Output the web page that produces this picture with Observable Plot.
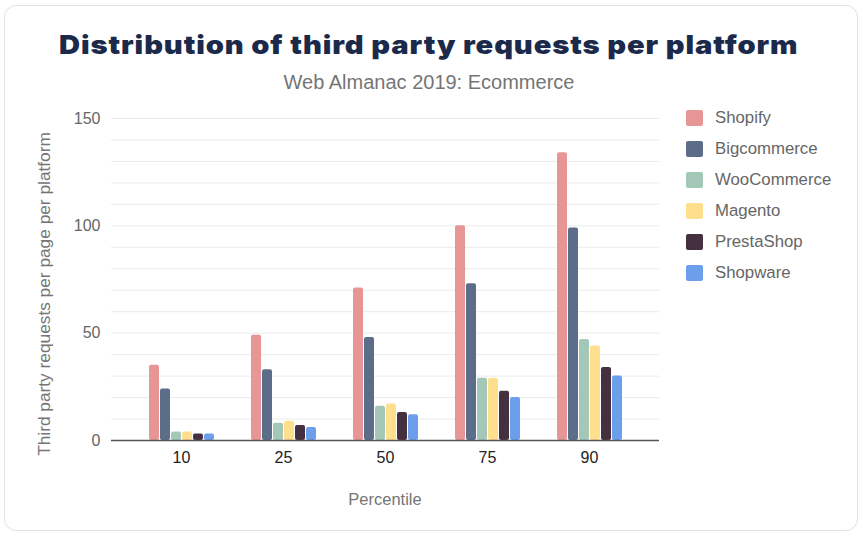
<!DOCTYPE html>
<html>
<head>
<meta charset="utf-8">
<script src="https://cdn.jsdelivr.net/npm/d3@7"></script>
<script src="https://cdn.jsdelivr.net/npm/@observablehq/plot@0.6"></script>
<style>
  body { margin: 0; background: #fff; font-family: "Liberation Sans", Arial, sans-serif; }
  #wrap { position: relative; width: 858px; height: 533px; overflow: hidden; }
  #card { position: absolute; left: 4px; top: 5px; width: 854px; height: 526px; border: 1.5px solid #e2e2e2; border-radius: 12px; box-sizing: border-box; }
  #title { position: absolute; left: 0; width: 858px; top: 29px; text-align: center; font-family: Inter, "DejaVu Sans", sans-serif; font-weight: 900; font-size: 26px; letter-spacing: 0.8px; color: #1b2a4a; white-space: nowrap; transform: scaleX(1.12); transform-origin: 431px 0; }
  #subtitle { position: absolute; left: 0; width: 858px; top: 71px; text-align: center; font-size: 20px; color: #757575; }
  .layer { position: absolute; left: 0; top: 100px; }
  #ylabel { position: absolute; left: 44px; top: 294px; transform: translate(-50%, -50%) rotate(-90deg); font-size: 17.3px; color: #757575; white-space: nowrap; }
  #xlabel { position: absolute; left: 385px; top: 490px; transform: translateX(-50%); font-size: 16.5px; color: #757575; }
  #legend { position: absolute; left: 686px; top: 110px; }
  .item { display: flex; align-items: center; height: 16px; margin-bottom: 15px; }
  .sw { width: 17px; height: 16px; border-radius: 2px; margin-right: 12px; flex: none; }
  .lab { font-size: 16.8px; color: #666; }
  #fg svg g[aria-label^="fx-axis"] text { fill: #222; }
</style>
</head>
<body>
<div id="wrap">
  <div id="card"></div>
  <div id="title">Distribution of third party requests per platform</div>
  <div id="subtitle">Web Almanac 2019: Ecommerce</div>
  <div id="bg" class="layer"></div>
  <div id="fg" class="layer"></div>
  <div id="ylabel">Third party requests per page per platform</div>
  <div id="xlabel">Percentile</div>
  <div id="legend"></div>
</div>
<script>
const percentiles = ["10", "25", "50", "75", "90"];
const platforms = ["Shopify", "Bigcommerce", "WooCommerce", "Magento", "PrestaShop", "Shopware"];
const colors = ["#e79595", "#5c6d89", "#a4c8b8", "#fedf8e", "#45303f", "#6b9fec"];
const shopify     = [35, 49, 71, 100, 134];
const bigcommerce = [24, 33, 48, 73, 99];
const woocommerce = [4, 8, 16, 29, 47];
const magento     = [4, 9, 17, 29, 44];
const prestashop  = [3, 7, 13, 23, 34];
const shopware    = [3, 6, 12, 20, 30];
const yTicks = [0, 50, 100, 150];
const gridTicks = [0, 10, 20, 30, 40, 50, 60, 70, 80, 90, 100, 110, 120, 130, 140, 150];

const series = [shopify, bigcommerce, woocommerce, magento, prestashop, shopware];
const rows = [];
percentiles.forEach((p, i) => {
  platforms.forEach((pl, j) => rows.push({percentile: p, platform: pl, value: series[j][i]}));
});

const common = {
  width: 858,
  height: 420,
  marginLeft: 111,
  marginRight: 199,
  marginTop: 18,
  marginBottom: 80,
  style: { fontFamily: "'Liberation Sans', Arial, sans-serif", fontSize: "16px", color: "#666", background: "transparent" }
};

// background: full-width grid and y axis
const bg = Plot.plot({
  ...common,
  x: { domain: percentiles, axis: null },
  y: { domain: [0, 150], ticks: yTicks, label: null, tickSize: 0, tickPadding: 11 },
  marks: [
    Plot.gridY(gridTicks, { stroke: "#ebebeb", strokeOpacity: 1, strokeWidth: 1 })
  ]
});
document.getElementById("bg").appendChild(bg);

// foreground: grouped bars faceted by percentile
const fg = Plot.plot({
  ...common,
  fx: { domain: percentiles, paddingInner: 0.336, paddingOuter: 0.348, label: null, tickSize: 0, tickPadding: 11 },
  x: { domain: platforms, axis: null, paddingInner: 0.13, paddingOuter: 0 },
  y: { domain: [0, 150], axis: null },
  color: { domain: platforms, range: colors },
  marks: [
    Plot.barY(rows, { fx: "percentile", x: "platform", y: "value", fill: "platform", rx: 2 })
  ]
});
document.getElementById("fg").appendChild(fg);

// baseline drawn over bars across the full plot width
const base = Plot.plot({
  ...common,
  x: { domain: percentiles, axis: null },
  y: { domain: [0, 150], axis: null },
  marks: [ Plot.ruleY([0], { stroke: "#555", strokeWidth: 1.5 }) ]
});
const baseDiv = document.createElement("div");
baseDiv.className = "layer";
baseDiv.appendChild(base);
document.getElementById("wrap").appendChild(baseDiv);

const legend = document.getElementById("legend");
platforms.forEach((pl, j) => {
  const item = document.createElement("div");
  item.className = "item";
  const sw = document.createElement("div");
  sw.className = "sw";
  sw.style.background = colors[j];
  const lab = document.createElement("span");
  lab.className = "lab";
  lab.textContent = pl;
  item.appendChild(sw);
  item.appendChild(lab);
  legend.appendChild(item);
});
</script>
</body>
</html>
